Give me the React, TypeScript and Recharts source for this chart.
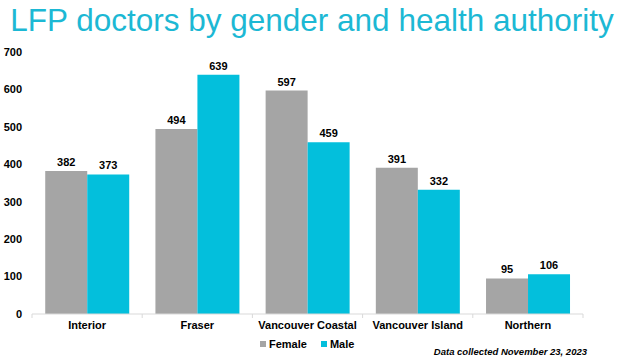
import React from "react";
import { BarChart, Bar, XAxis, YAxis, LabelList, Legend } from "recharts";

const categories = ["Interior", "Fraser", "Vancouver Coastal", "Vancouver Island", "Northern"];
const femaleValues = [382, 494, 597, 391, 95];
const maleValues = [373, 639, 459, 332, 106];
const yTicks = [0, 100, 200, 300, 400, 500, 600, 700];

const data = categories.map((c, i) => ({ name: c, Female: femaleValues[i], Male: maleValues[i] }));

const FONT = "'Liberation Sans', Arial, sans-serif";
const GRAY = "#A5A5A5";
const CYAN = "#03BFDC";

const CategoryTick = (props: any) => {
  const { x, y, payload, index } = props;
  const half = payload && payload.offset ? payload.offset : 55.1;
  const last = index === categories.length - 1;
  return (
    <g>
      <line x1={x - half} x2={x - half} y1={y} y2={y + 4} stroke="#D9D9D9" strokeWidth={1} />
      {last && <line x1={x + half} x2={x + half} y1={y} y2={y + 4} stroke="#D9D9D9" strokeWidth={1} />}
      <text x={x} y={y + 7} dy="0.71em" textAnchor="middle" fontFamily={FONT} fontSize={11} fontWeight="bold" fill="#000">
        {payload.value}
      </text>
    </g>
  );
};

const LegendContent = () => (
  <div style={{ height: 0, overflow: "visible" }}>
    <div style={{ display: "flex", fontFamily: FONT, fontSize: 11, fontWeight: "bold", color: "#000" }}>
      {[
        { label: "Female", color: GRAY },
        { label: "Male", color: CYAN },
      ].map((it) => (
        <div key={it.label} style={{ display: "flex", alignItems: "center", marginRight: 14 }}>
          <span style={{ width: 6, height: 6, background: it.color, display: "inline-block", marginRight: 3 }} />
          <span>{it.label}</span>
        </div>
      ))}
    </div>
  </div>
);

export default function App() {
  return (
    <div style={{ position: "absolute", left: 0, top: 0, width: 624, height: 358, background: "#fff", overflow: "hidden" }}>
      <div
        style={{
          position: "absolute",
          left: 0,
          top: 2,
          width: 624,
          textAlign: "center",
          fontFamily: FONT,
          fontSize: 31.5,
          lineHeight: "36px",
          color: "#1CB8D4",
          whiteSpace: "nowrap",
        }}
      >
        LFP doctors by gender and health authority
      </div>
      <div style={{ position: "absolute", left: 0, top: 0 }}>
        <BarChart
          width={624}
          height={358}
          data={data}
          margin={{ top: 52, right: 41, bottom: 24, left: 0 }}
          barCategoryGap="12%"
          barGap={0}
        >
          <XAxis
            dataKey="name"
            height={20}
            axisLine={{ stroke: "#D9D9D9" }}
            tickLine={false}
            tickSize={0}
            tickMargin={0}
            interval={0}
            tick={<CategoryTick />}
          />
          <YAxis
            width={32}
            domain={[0, 700]}
            ticks={yTicks}
            axisLine={false}
            tickLine={false}
            tickMargin={4}
            tick={{ fontFamily: FONT, fontSize: 11, fontWeight: "bold", fill: "#000" }}
          />
          <Legend
            verticalAlign="bottom"
            align="left"
            wrapperStyle={{ left: 260, top: 338, width: 120, height: 0, bottom: "auto" }}
            content={<LegendContent />}
          />
          <Bar dataKey="Female" fill={GRAY} isAnimationActive={false}>
            <LabelList dataKey="Female" position="top" offset={5} style={{ fontFamily: FONT, fontSize: 11, fontWeight: "bold", fill: "#000" }} />
          </Bar>
          <Bar dataKey="Male" fill={CYAN} isAnimationActive={false}>
            <LabelList dataKey="Male" position="top" offset={5} style={{ fontFamily: FONT, fontSize: 11, fontWeight: "bold", fill: "#000" }} />
          </Bar>
        </BarChart>
      </div>
      <div
        style={{
          position: "absolute",
          right: 37,
          top: 346,
          fontFamily: FONT,
          fontSize: 9.5,
          fontWeight: "bold",
          fontStyle: "italic",
          color: "#000",
          whiteSpace: "nowrap",
        }}
      >
        Data collected November 23, 2023
      </div>
    </div>
  );
}
